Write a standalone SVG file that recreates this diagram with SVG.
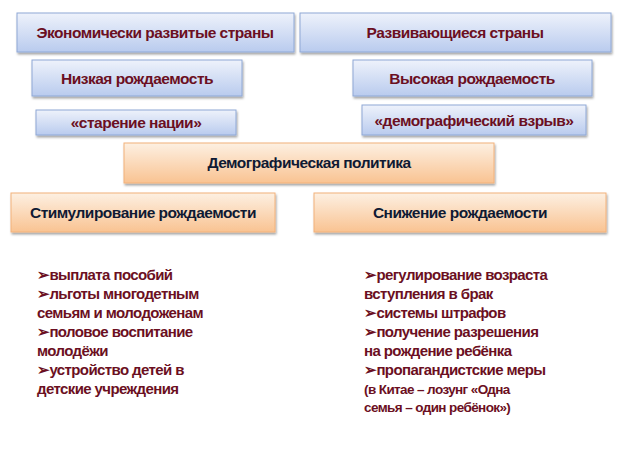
<svg xmlns="http://www.w3.org/2000/svg" width="628" height="472" viewBox="0 0 628 472">
<defs>
<linearGradient id="gb" x1="0" y1="0" x2="0" y2="1"><stop offset="0" stop-color="#eef2fb"/><stop offset="1" stop-color="#b9cbee"/></linearGradient>
<linearGradient id="go" x1="0" y1="0" x2="0" y2="1"><stop offset="0" stop-color="#fdf0e2"/><stop offset="1" stop-color="#f9c392"/></linearGradient>
<filter id="sh" x="-5%" y="-10%" width="110%" height="130%"><feDropShadow dx="1" dy="2" stdDeviation="1.2" flood-color="#000" flood-opacity="0.35"/></filter>
</defs>
<style>
.b{fill:url(#gb);stroke:#8fa8d6;stroke-width:1;filter:url(#sh)}
.o{fill:url(#go);stroke:#f2b27a;stroke-width:1;filter:url(#sh)}
.t{font-family:"Liberation Sans",Arial,sans-serif;font-weight:bold;font-size:15.5px;text-anchor:middle;letter-spacing:-0.5px}
.r{fill:#6b0f22}
.k{fill:#0f1a33}
.l{font-family:"Liberation Sans",Arial,sans-serif;font-weight:bold;font-size:15px;fill:#6b0f22;letter-spacing:-0.6px}
</style>
<rect width="628" height="472" fill="#fff"/>
<g id="n1"><rect class="b" x="17" y="13" width="277" height="39"/><text class="t r" x="155" y="38">Экономически развитые страны</text></g>
<g id="n2"><rect class="b" x="300" y="13" width="311" height="39"/><text class="t r" x="455" y="38">Развивающиеся страны</text></g>
<g id="n3"><rect class="b" x="32" y="60" width="210" height="36"/><text class="t r" x="137" y="84">Низкая рождаемость</text></g>
<g id="n4"><rect class="b" x="353" y="60" width="239" height="36"/><text class="t r" x="472" y="84">Высокая рождаемость</text></g>
<g id="n5"><rect class="b" x="36" y="110" width="200" height="25"/><text class="t r" x="136" y="128">«старение нации»</text></g>
<g id="n6"><rect class="b" x="362" y="105" width="224" height="30"/><text class="t r" x="474" y="126">«демографический взрыв»</text></g>
<g id="n7"><rect class="o" x="124" y="143" width="370" height="40"/><text class="t k" x="309" y="168">Демографическая политика</text></g>
<g id="n8"><rect class="o" x="11" y="193" width="264" height="39"/><text class="t k" x="143" y="218">Стимулирование рождаемости</text></g>
<g id="n9"><rect class="o" x="314" y="193" width="292" height="39"/><text class="t k" x="460" y="218">Снижение рождаемости</text></g>
<g id="connectors"></g>
<g id="listL">
<text class="l" x="37" y="280">➢выплата пособий</text>
<text class="l" x="37" y="299">➢льготы многодетным</text>
<text class="l" x="37" y="318">семьям и молодоженам</text>
<text class="l" x="37" y="337">➢половое воспитание</text>
<text class="l" x="37" y="356">молодёжи</text>
<text class="l" x="37" y="375">➢устройство детей в</text>
<text class="l" x="37" y="394">детские учреждения</text>
</g>
<g id="listR">
<text class="l" x="364" y="280">➢регулирование возраста</text>
<text class="l" x="364" y="299">вступления в брак</text>
<text class="l" x="364" y="318">➢системы штрафов</text>
<text class="l" x="364" y="337">➢получение разрешения</text>
<text class="l" x="364" y="356">на рождение ребёнка</text>
<text class="l" x="364" y="375">➢пропагандистские меры</text>
<text class="l" x="364" y="394" style="font-size:13.5px">(в Китае – лозунг «Одна</text>
<text class="l" x="364" y="412" style="font-size:13.5px">семья – один ребёнок»)</text>
</g>
</svg>
